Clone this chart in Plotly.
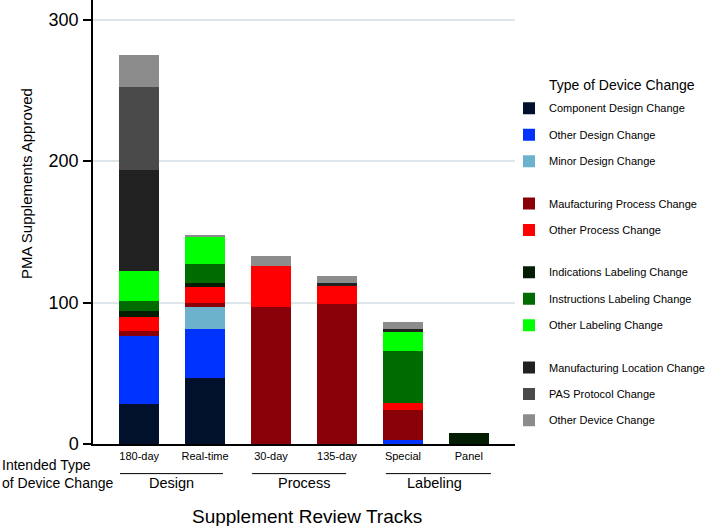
import plotly.graph_objects as go

categories = ["180-day", "Real-time", "30-day", "135-day", "Special", "Panel"]

series_names = [
    "Component Design Change", "Other Design Change", "Minor Design Change",
    "Maufacturing Process Change", "Other Process Change",
    "Indications Labeling Change", "Instructions Labeling Change", "Other Labeling Change",
    "Manufacturing Location Change", "PAS Protocol Change", "Other Device Change",
]
series_groups = ["design", "design", "design", "process", "process",
                 "labeling", "labeling", "labeling", "other", "other", "other"]

component_design = [28, 47, 0, 0, 0, 0]
other_design = [48, 34, 0, 0, 3, 0]
minor_design = [0, 16, 0, 0, 0, 0]
manufacturing_process = [4, 3, 97, 99, 21, 0]
other_process = [10, 11, 29, 13, 5, 0]
indications_labeling = [4, 3, 0, 0, 0, 8]
instructions_labeling = [7, 13, 0, 0, 37, 0]
other_labeling = [21, 19, 0, 0, 13, 0]
manufacturing_location = [72, 0, 0, 2, 2, 0]
pas_protocol = [58, 0, 0, 0, 0, 0]
other_device = [23, 2, 7, 5, 5, 0]

series_values = [component_design, other_design, minor_design, manufacturing_process,
                 other_process, indications_labeling, instructions_labeling,
                 other_labeling, manufacturing_location, pas_protocol, other_device]

colors = ["#02112b", "#0033ff", "#6cb2cc", "#8a0008", "#ff0000",
          "#031e03", "#006b00", "#00ff00", "#212121", "#4a4a4a", "#8c8c8c"]

y_ticks = [0, 100, 200, 300]

font_family = "Arial, Liberation Sans, sans-serif"

fig = go.Figure()
for name, grp, vals, col in zip(series_names, series_groups, series_values, colors):
    fig.add_trace(go.Bar(
        x=categories, y=vals,
        name='<span style="font-size:11px;baseline-shift:3px">' + name + '</span>',
        legendgroup=grp,
        marker=dict(color=col, line=dict(width=0)),
    ))

fig.update_layout(
    width=708, height=526,
    margin=dict(l=93, r=193, t=0, b=82, pad=0, autoexpand=False),
    paper_bgcolor="white", plot_bgcolor="white",
    barmode="stack", bargap=0.39,
    font=dict(family=font_family, color="black"),
    showlegend=True,
    legend=dict(
        x=0.9858, y=0.797, xanchor="left", yanchor="top",
        traceorder="grouped", tracegroupgap=16,
        font=dict(size=18, family=font_family, color="black"),
        bgcolor="rgba(0,0,0,0)", borderwidth=0,
    ),
    xaxis=dict(
        type="category", range=[-0.7, 5.7], automargin=False,
        showline=True, linecolor="black", linewidth=1.5,
        ticks="", showgrid=False, zeroline=False,
        tickfont=dict(size=11, family=font_family, color="black"),
        ticklabelstandoff=1,
    ),
    yaxis=dict(
        range=[0, 313.8], tickvals=y_ticks, automargin=False,
        showline=True, linecolor="black", linewidth=1.5,
        ticks="outside", ticklen=8, tickwidth=1.5, tickcolor="black",
        showgrid=True, gridcolor="#dbe5ea", gridwidth=1.5,
        zeroline=False,
        tickfont=dict(size=18, family=font_family, color="black"),
        ticklabelstandoff=1,
    ),
)

annotations = [
    dict(text="PMA Supplements Approved", x=-0.159, y=0.5876, textangle=-90,
         font=dict(size=15)),
    dict(text="Supplement Review Tracks", x=0.507, y=-0.163, font=dict(size=19)),
    dict(text="Design", x=0.185, y=-0.087, font=dict(size=14.5)),
    dict(text="Process", x=0.500, y=-0.087, font=dict(size=14.5)),
    dict(text="Labeling", x=0.810, y=-0.087, font=dict(size=14.5)),
    dict(text="Intended Type<br>of Device Change", x=-0.2215, y=-0.068,
         xanchor="left", align="left", font=dict(size=14)),
    dict(text="Type of Device Change", x=1.0758, y=0.8084, xanchor="left",
         font=dict(size=14)),
]
for a in annotations:
    a.setdefault("xanchor", "center")
    a.update(xref="paper", yref="paper", yanchor="middle", showarrow=False)
    a["font"].update(family=font_family, color="black")
    fig.add_annotation(**a)

group_lines = [(0.064, 0.308), (0.377, 0.600), (0.694, 0.943)]
for x0, x1 in group_lines:
    fig.add_shape(type="line", xref="paper", yref="paper",
                  x0=x0, x1=x1, y0=-0.0667, y1=-0.0667,
                  line=dict(color="black", width=1))

fig.write_html("out.html", config={"displayModeBar": False},
               post_script="document.body.style.margin='0';")
